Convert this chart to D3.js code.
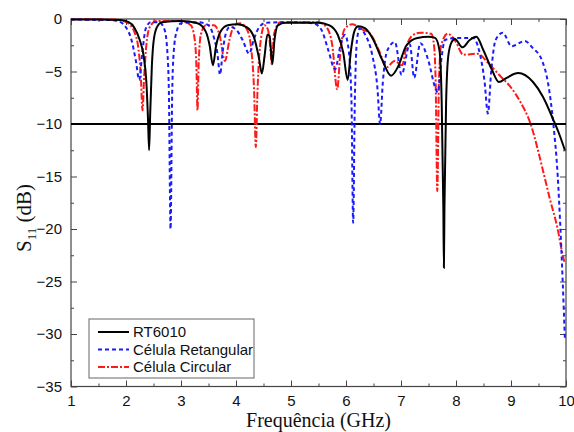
<!DOCTYPE html>
<html><head><meta charset="utf-8">
<script src="https://cdn.jsdelivr.net/npm/d3@7"></script>
<style>body{margin:0;background:#fff}svg{display:block}</style>
</head><body><svg id="c" width="574" height="432"></svg>
<script>
const xTicks = [1,2,3,4,5,6,7,8,9,10];
const yTicks = [0,-5,-10,-15,-20,-25,-30,-35];
const seriesNames = ["RT6010","Célula Retangular","Célula Circular"];
const refLevel = -10;
// [GHz, dB]
const rt6010 = [[1.0,-0.05],[1.5,-0.05],[1.9,-0.1],[2.05,-0.3],[2.15,-0.8],[2.25,-2.0],[2.32,-3.5],[2.37,-6],[2.4,-9.5],[2.42,-12.5],[2.44,-9],[2.47,-4.5],[2.5,-2.2],[2.56,-0.8],[2.65,-0.3],[3.0,-0.2],[3.3,-0.4],[3.45,-1.2],[3.52,-2.5],[3.58,-4.4],[3.64,-2.5],[3.72,-1.2],[3.85,-0.6],[4.02,-0.5],[4.2,-0.8],[4.33,-1.8],[4.42,-3.8],[4.47,-5.2],[4.52,-3.5],[4.57,-1.5],[4.61,-1.6],[4.66,-4.3],[4.7,-2],[4.76,-0.6],[4.9,-0.35],[5.5,-0.35],[5.7,-0.6],[5.85,-1.5],[5.95,-3.2],[6.03,-5.8],[6.09,-3],[6.15,-1.2],[6.22,-0.7],[6.35,-0.9],[6.5,-2],[6.65,-3.8],[6.82,-5.4],[6.95,-4.5],[7.1,-2.5],[7.3,-1.8],[7.5,-1.7],[7.62,-1.8],[7.7,-3],[7.74,-8],[7.77,-18],[7.78,-23.7],[7.79,-18],[7.82,-8],[7.86,-3.5],[7.92,-2.2],[7.98,-1.9],[8.12,-2.7],[8.25,-2.0],[8.37,-1.7],[8.5,-3.0],[8.65,-4.8],[8.78,-6.0],[8.92,-5.6],[9.13,-5.15],[9.4,-6.0],[9.58,-7.4],[9.77,-9.6],[9.88,-11],[9.98,-12.5]];
const celulaRet = [[1.0,-0.05],[1.7,-0.1],[1.9,-0.3],[2.0,-0.8],[2.1,-2],[2.18,-4],[2.24,-5.8],[2.3,-3],[2.36,-0.9],[2.45,-0.3],[2.6,-0.3],[2.7,-1.0],[2.75,-3],[2.78,-7],[2.81,-20],[2.84,-7],[2.87,-3],[2.92,-1.2],[3.0,-0.4],[3.3,-0.3],[3.5,-0.6],[3.6,-1.8],[3.66,-3.2],[3.71,-5.3],[3.76,-3],[3.82,-1.3],[3.89,-0.75],[4.0,-1.0],[4.12,-2],[4.24,-3.3],[4.32,-2],[4.42,-0.8],[4.55,-0.35],[5.0,-0.3],[5.4,-0.4],[5.55,-1],[5.68,-3],[5.8,-4.8],[5.9,-2.5],[5.98,-1.5],[6.05,-3],[6.1,-8],[6.13,-19.4],[6.16,-8],[6.2,-2],[6.25,-0.9],[6.35,-1.5],[6.48,-3.5],[6.57,-6.5],[6.62,-10],[6.67,-6],[6.75,-3],[6.89,-2.2],[7.01,-5.3],[7.16,-2.4],[7.24,-5.6],[7.35,-2.3],[7.5,-4],[7.62,-6.5],[7.67,-7],[7.73,-4],[7.8,-2],[8.02,-1.8],[8.31,-1.8],[8.42,-3],[8.52,-6],[8.58,-9],[8.64,-5],[8.72,-2],[8.85,-1.3],[9.01,-2.6],[9.25,-2.1],[9.4,-2.8],[9.56,-3.9],[9.67,-6],[9.77,-10],[9.85,-15],[9.89,-19],[9.94,-25],[9.98,-30.5]];
const celulaCirc = [[1.0,-0.02],[1.8,-0.05],[2.0,-0.3],[2.15,-1.2],[2.23,-3],[2.27,-5.5],[2.3,-8.7],[2.33,-5.5],[2.37,-2.5],[2.43,-0.8],[2.55,-0.2],[3.0,-0.2],[3.18,-0.6],[3.25,-2],[3.28,-4.5],[3.3,-8.7],[3.32,-4.5],[3.36,-1.5],[3.45,-0.6],[3.6,-0.6],[3.7,-1.5],[3.8,-4.0],[3.88,-2],[3.97,-0.6],[4.07,-0.4],[4.2,-1],[4.28,-3],[4.33,-7],[4.36,-12.2],[4.39,-7],[4.45,-2],[4.52,-0.6],[4.58,-1],[4.62,-2.5],[4.65,-4.3],[4.69,-1.5],[4.8,-0.3],[5.5,-0.3],[5.65,-0.8],[5.75,-2.5],[5.84,-6.7],[5.9,-3],[5.97,-1],[6.11,-0.5],[6.3,-1],[6.44,-1.4],[6.6,-3],[6.74,-4.6],[6.88,-4.0],[7.02,-4.4],[7.1,-2.6],[7.2,-1.6],[7.35,-1.3],[7.55,-1.4],[7.6,-2.5],[7.63,-6],[7.66,-16.4],[7.69,-6],[7.73,-2.5],[7.85,-1.4],[8.0,-2.2],[8.13,-3.4],[8.38,-3.3],[8.62,-4.4],[8.8,-5.4],[8.98,-6.4],[9.16,-7.8],[9.35,-9.9],[9.58,-14.4],[9.7,-17],[9.84,-19.8],[9.95,-22.7],[9.98,-23.3]];
const seriesData = [rt6010, celulaRet, celulaCirc];
const colors = ["#000000","#1a1aff","#ff1a1a"];
const dashes = [null,"4,3","7,2,2,2"];

const svg = d3.select("#c");
const L=71, R=566, T=19, B=386.5;
const x = d3.scaleLinear().domain([1,10]).range([L,R]);
const y = d3.scaleLinear().domain([-35,0]).range([B,T]);

const defs = svg.append("defs");
defs.append("clipPath").attr("id","clip").append("rect").attr("x",L).attr("y",T-1).attr("width",R-L).attr("height",B-T+1);

const axisColor="#444";
const xMinor = d3.range(1.5,10,1);
const yMinor = d3.range(-32.5,0,5);
function styleAxis(g){ g.select(".domain").remove(); g.selectAll(".tick line").attr("stroke",axisColor).attr("stroke-width",1); g.selectAll("text").attr("font-family","Liberation Sans, Arial, sans-serif").attr("font-size",15).attr("fill","#111"); }

svg.append("g").attr("transform",`translate(0,${B})`).call(d3.axisBottom(x).tickValues(xTicks).tickSize(-6).tickPadding(9).tickFormat(d3.format("d"))).call(styleAxis);
svg.append("g").attr("transform",`translate(0,${B})`).call(d3.axisBottom(x).tickValues(xMinor).tickSize(-3).tickFormat("")).call(styleAxis);
svg.append("g").attr("transform",`translate(0,${T})`).call(d3.axisTop(x).tickValues(xTicks).tickSize(-6).tickFormat("")).call(styleAxis);
svg.append("g").attr("transform",`translate(0,${T})`).call(d3.axisTop(x).tickValues(xMinor).tickSize(-3).tickFormat("")).call(styleAxis);
svg.append("g").attr("transform",`translate(${L},0)`).call(d3.axisLeft(y).tickValues(yTicks).tickSize(-6).tickPadding(9).tickFormat(d3.format("d"))).call(styleAxis);
svg.append("g").attr("transform",`translate(${L},0)`).call(d3.axisLeft(y).tickValues(yMinor).tickSize(-3).tickFormat("")).call(styleAxis);
svg.append("g").attr("transform",`translate(${R},0)`).call(d3.axisRight(y).tickValues(yTicks).tickSize(-6).tickFormat("")).call(styleAxis);
svg.append("g").attr("transform",`translate(${R},0)`).call(d3.axisRight(y).tickValues(yMinor).tickSize(-3).tickFormat("")).call(styleAxis);

svg.append("rect").attr("x",L).attr("y",T).attr("width",R-L).attr("height",B-T).attr("fill","none").attr("stroke",axisColor).attr("stroke-width",1.2);

svg.append("line").attr("x1",x(1)).attr("x2",x(10)).attr("y1",y(refLevel)).attr("y2",y(refLevel)).attr("stroke","#000").attr("stroke-width",2);

const line = d3.line().x(d=>x(d[0])).y(d=>y(d[1])).curve(d3.curveMonotoneX);
const plot = svg.append("g").attr("clip-path","url(#clip)");
[2,1,0].forEach(i=>{
  plot.append("path").datum(seriesData[i]).attr("d",line).attr("fill","none")
    .attr("stroke",colors[i]).attr("stroke-width",2).attr("stroke-dasharray",dashes[i]);
});

const lg = svg.append("g");
lg.append("rect").attr("x",89).attr("y",319).attr("width",165).attr("height",59).attr("fill","#fff").attr("stroke","#666").attr("stroke-width",1);
seriesNames.forEach((n,i)=>{
  const yy = 332 + i*17.5;
  lg.append("line").attr("x1",98).attr("x2",129).attr("y1",yy).attr("y2",yy).attr("stroke",colors[i]).attr("stroke-width",2).attr("stroke-dasharray",dashes[i]);
  lg.append("text").attr("x",133).attr("y",yy+5).text(n).attr("font-family","Liberation Sans, Arial, sans-serif").attr("font-size",15).attr("fill","#111");
});

svg.append("text").attr("x",(L+R)/2).attr("y",427).attr("text-anchor","middle").attr("font-family","Liberation Serif, Times New Roman, serif").attr("font-size",20).attr("fill","#111").text("Frequência (GHz)");
const yt = svg.append("text").attr("transform","translate(31,218) rotate(-90)").attr("text-anchor","middle").attr("font-family","Liberation Serif, Times New Roman, serif").attr("font-size",21).attr("fill","#111");
yt.append("tspan").text("S");
yt.append("tspan").attr("font-size",13).attr("dy",5).text("11");
yt.append("tspan").attr("dy",-5).text(" (dB)");
</script></body></html>
